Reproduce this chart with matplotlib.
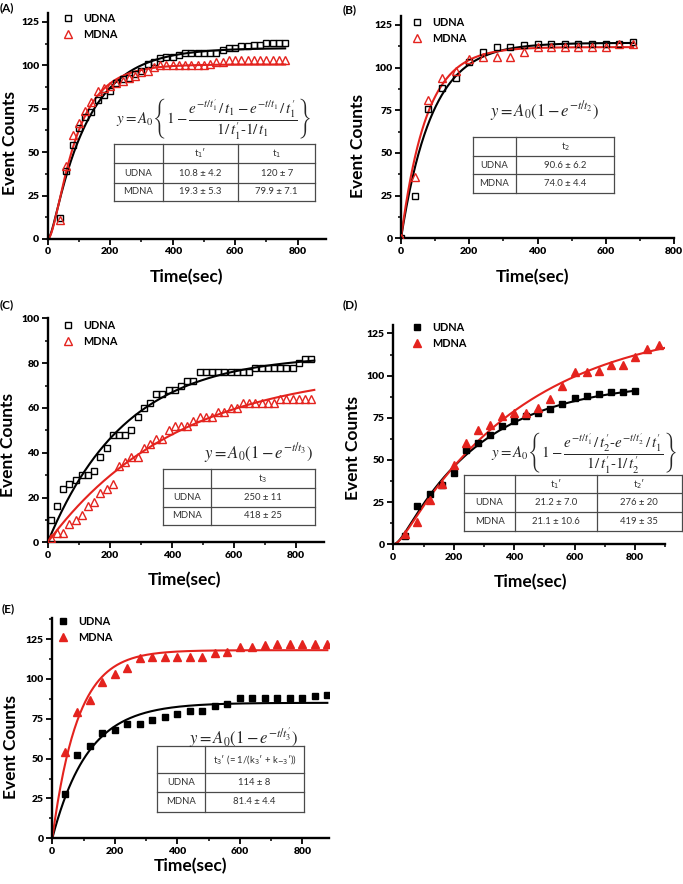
import numpy as np
import matplotlib
matplotlib.use('Agg')
import matplotlib.pyplot as plt
from matplotlib.lines import Line2D
from matplotlib.ticker import MultipleLocator

plt.rcParams['font.family'] = ['Lato', 'DejaVu Sans']
plt.rcParams['mathtext.fontset'] = 'stix'

# ---------------- data ----------------
# Panel A
A_t = [40, 60, 80, 100, 120, 140, 160, 180, 200, 220, 240, 260, 280, 300, 320, 340, 360, 380,
       400, 420, 440, 460, 480, 500, 520, 540, 560, 580, 600, 620, 640, 660, 680, 700, 720, 740, 760]
A_udna = [12, 39, 54, 64, 70, 73, 80, 83, 85, 90, 92, 93, 95, 97, 101, 102, 104, 105,
          105, 106, 107, 107, 107, 107, 107, 107, 109, 110, 110, 111, 111, 112, 112, 113, 113, 113, 113]
A_mdna = [11, 42, 60, 67, 74, 79, 85, 87, 88, 90, 91, 93, 94, 96, 97, 99, 100, 100,
          100, 100, 100, 100, 100, 100, 101, 102, 102, 103, 103, 103, 103, 103, 103, 103, 103, 103, 103]
A_fit_udna = (110.0, 10.8, 120.0)   # A0, t1', t1
A_fit_mdna = (100.5, 19.3, 79.9)
A_fit_end = 760

# Panel B
B_t = [0, 40, 80, 120, 160, 200, 240, 280, 320, 360, 400, 440, 480, 520, 560, 600, 640, 680]
B_udna = [0, 25, 76, 88, 94, 103, 109, 112, 112, 113, 114, 114, 114, 114, 114, 114, 114, 115]
B_mdna = [0, 36, 81, 94, 98, 105, 106, 106, 106, 109, 112, 112, 112, 112, 112, 112, 114, 114]
B_fit_udna = (114.5, 90.6)
B_fit_mdna = (112.0, 74.0)
B_fit_end = 680

# Panel C
C_t = [10, 30, 50, 70, 90, 110, 130, 150, 170, 190, 210, 230, 250, 270, 290, 310, 330, 350, 370, 390,
       410, 430, 450, 470, 490, 510, 530, 550, 570, 590, 610, 630, 650, 670, 690, 710, 730, 750, 770,
       790, 810, 830, 850]
C_udna = [10, 16, 24, 26, 28, 30, 30, 32, 38, 42, 48, 48, 48, 50, 56, 60, 62, 66, 66, 68,
          68, 70, 72, 72, 76, 76, 76, 76, 76, 76, 76, 76, 76, 78, 78, 78, 78, 78, 78,
          78, 80, 82, 82]
C_mdna = [2, 4, 4, 8, 10, 12, 16, 18, 22, 24, 26, 34, 36, 38, 38, 42, 44, 46, 46, 50,
          52, 52, 52, 54, 56, 56, 56, 58, 58, 60, 60, 62, 62, 62, 62, 62, 62, 64, 64,
          64, 64, 64, 64]
C_fit_udna = (83.8, 250.0)
C_fit_mdna = (78.0, 418.0)
C_fit_end = 860

# Panel D
D_t_udna = [40, 80, 120, 160, 200, 240, 280, 320, 360, 400, 440, 480, 520, 560, 600, 640, 680, 720, 760, 800]
D_udna = [5, 23, 30, 35, 42, 56, 60, 65, 70, 73, 76, 78, 80, 83, 87, 88, 89, 90, 90, 91]
D_t_mdna = [40, 80, 120, 160, 200, 240, 280, 320, 360, 400, 440, 480, 520, 560, 600, 640, 680, 720, 760,
            800, 840, 880]
D_mdna = [6, 13, 26, 36, 47, 60, 68, 71, 76, 78, 78, 81, 86, 94, 102, 102, 103, 106, 106, 111, 116, 118]
D_fit_udna = (96.8, 21.2, 276.0)   # A0, t1', t2'
D_fit_mdna = (132.8, 21.1, 419.0)
D_fit_end_udna = 800
D_fit_end_mdna = 900

# Panel E
E_t = [40, 80, 120, 160, 200, 240, 280, 320, 360, 400, 440, 480, 520, 560, 600, 640, 680, 720, 760, 800, 840, 880]
E_udna = [28, 52, 58, 66, 68, 72, 72, 74, 76, 78, 80, 80, 83, 84, 88, 88, 88, 88, 88, 88, 89, 90]
E_mdna = [54, 79, 87, 98, 103, 107, 113, 114, 114, 114, 114, 114, 116, 117, 120, 120, 121, 122, 122, 122, 122, 122]
E_fit_udna = (85.0, 114.0)
E_fit_mdna = (118.0, 81.4)
E_fit_end = 880

# tables
A_table = [["", "t$_1$\u2032", "t$_1$"],
           ["UDNA", "10.8 \u00b1 4.2", "120 \u00b1 7"],
           ["MDNA", "19.3 \u00b1 5.3", "79.9 \u00b1 7.1"]]
B_table = [["", "t$_2$"], ["UDNA", "90.6 \u00b1 6.2"], ["MDNA", "74.0 \u00b1 4.4"]]
C_table = [["", "t$_3$"], ["UDNA", "250 \u00b1 11"], ["MDNA", "418 \u00b1 25"]]
D_table = [["", "t$_1$\u2032", "t$_2$\u2032"],
           ["UDNA", "21.2 \u00b1 7.0", "276 \u00b1 20"],
           ["MDNA", "21.1 \u00b1 10.6", "419 \u00b1 35"]]
E_table = [["", "t$_3$\u2032 (= 1/(k$_3$\u2032 + k$_{-3}$\u2032))"], ["UDNA", "114 \u00b1 8"], ["MDNA", "81.4 \u00b1 4.4"]]

# ---------------- helpers ----------------
W, H = 683, 884
fig = plt.figure(figsize=(6.83, 8.84), dpi=100)
RED = '#e4231e'
GRID = '#4a4a4a'


def one_step(t, a0, tau):
    return a0 * (1 - np.exp(-t / tau))


def two_step(t, a0, ta, tb):
    return a0 * (1 - (np.exp(-t / ta) / tb - np.exp(-t / tb) / ta) / (1 / tb - 1 / ta))


def make_axes(l, t, r, b, xmax, ymax, ymaj, ymin):
    ax = fig.add_axes([l / W, 1 - b / H, (r - l) / W, (b - t) / H])
    ax.set_xlim(0, xmax)
    ax.set_ylim(0, ymax)
    for s in ['top', 'right']:
        ax.spines[s].set_visible(False)
    for s in ['left', 'bottom']:
        ax.spines[s].set_linewidth(1.7)
    ax.xaxis.set_major_locator(MultipleLocator(200))
    ax.xaxis.set_minor_locator(MultipleLocator(100))
    ax.yaxis.set_major_locator(MultipleLocator(ymaj))
    ax.yaxis.set_minor_locator(MultipleLocator(ymin))
    ax.tick_params(which='major', direction='out', length=4, width=1.3, labelsize=7.5, pad=2)
    ax.tick_params(which='minor', direction='out', length=2.5, width=1.1)
    for lab in ax.get_xticklabels() + ax.get_yticklabels():
        lab.set_fontweight('heavy')
    ax.patch.set_alpha(0)
    return ax


def labels(ax, ylab_xy, xlab_xy):
    ax.set_ylabel('Event Counts', fontsize=12.5, fontweight='bold')
    ax.set_xlabel('Time(sec)', fontsize=12.5, fontweight='bold')
    ax.yaxis.set_label_coords(ylab_xy[0] / W, 1 - ylab_xy[1] / H, transform=fig.transFigure)
    ax.xaxis.set_label_coords(xlab_xy[0] / W, 1 - xlab_xy[1] / H, transform=fig.transFigure)
    ax.yaxis.label.set_va('center')
    ax.xaxis.label.set_va('center')


def legend(ax, xm, ym):
    fs = 7.8
    em = fs * 100 / 72
    ax.legend(loc='upper left', bbox_to_anchor=((xm - em * 0.5) / W, 1 - (ym - em * 0.62) / H),
              bbox_transform=fig.transFigure, frameon=False, handlelength=1.0, handletextpad=0.9,
              labelspacing=0.4, borderpad=0, borderaxespad=0,
              prop={'family': ['Lato', 'DejaVu Sans'], 'weight': 'bold', 'size': fs})


def fline(x0, y0, x1, y1):
    fig.add_artist(Line2D([x0 / W, x1 / W], [1 - y0 / H, 1 - y1 / H], transform=fig.transFigure,
                          color=GRID, lw=0.9, zorder=5))


def table(xs, ys, cells, fs=6.8):
    for y in ys:
        fline(xs[0], y, xs[-1], y)
    for x in xs:
        fline(x, ys[0], x, ys[-1])
    for i, row in enumerate(cells):
        for j, txt in enumerate(row):
            if txt:
                fig.text((xs[j] + xs[j + 1]) / 2 / W, 1 - (ys[i] + ys[i + 1]) / 2 / H, txt,
                         ha='center', va='center', fontsize=fs, color='#333333',
                         math_fontfamily='dejavusans', zorder=6)


def equation(x, y, s, fs=11.5):
    fig.text(x / W, 1 - y / H, s, ha='center', va='center', fontsize=fs, color='#262626', zorder=6)


def panel_letter(x, y, s):
    fig.text(x / W, 1 - y / H, s, ha='left', va='center', fontsize=8.5, fontweight='bold')


open_sq = dict(marker='s', ms=4.3, mfc='none', mec='black', mew=1.0, ls='none')
open_tri = dict(marker='^', ms=6.0, mfc='none', mec=RED, mew=1.0, ls='none')
fill_sq = dict(marker='s', ms=4.5, mfc='black', mec='black', ls='none')
fill_tri = dict(marker='^', ms=6.0, mfc=RED, mec=RED, ls='none')

# ---------------- Panel A ----------------
ax = make_axes(47.7, 13.3, 325.8, 239, 890, 130, 25, 12.5)
tt = np.linspace(0, A_fit_end, 400)
ax.plot(tt, two_step(tt, *A_fit_udna), color='black', lw=1.5, zorder=2)
ax.plot(tt, two_step(tt, *A_fit_mdna), color=RED, lw=1.5, zorder=2)
ax.plot(A_t, A_udna, label='UDNA', zorder=3, **open_sq)
ax.plot(A_t, A_mdna, label='MDNA', zorder=3, **open_tri)
legend(ax, 68, 20)
labels(ax, (10, 143), (186, 277))
panel_letter(0, 8, '(A)')
equation(214, 118, r"$y = A_0\left\{1-\dfrac{e^{-t/t_1'}\,/\,t_1-e^{-t/t_1}\,/\,t_1'}{1/\,t_1'\text{-}1/\,t_1}\right\}$", fs=10.8)
table([114.3, 162.7, 238.3, 315], [144, 163.3, 182.7, 201], A_table)

# ---------------- Panel B ----------------
ax = make_axes(401, 16.4, 674, 238.3, 800, 130, 25, 12.5)
tt = np.linspace(0, B_fit_end, 400)
ax.plot(tt, one_step(tt, *B_fit_udna), color='black', lw=1.5, zorder=2)
ax.plot(tt, one_step(tt, *B_fit_mdna), color=RED, lw=1.5, zorder=2)
ax.plot(B_t, B_udna, label='UDNA', zorder=3, **open_sq)
ax.plot(B_t, B_mdna, label='MDNA', zorder=3, **open_tri)
legend(ax, 417, 24)
labels(ax, (358, 146), (533, 277))
panel_letter(343, 10, '(B)')
equation(545, 111, r"$y = A_0\left(1-e^{-t/t_2}\right)$", fs=12)
table([472.7, 516, 614.3], [136.7, 156, 174.3, 193.3], B_table)

# ---------------- Panel C ----------------
ax = make_axes(47.7, 318.3, 323.6, 542.3, 890, 100, 20, 10)
tt = np.linspace(0, C_fit_end, 400)
ax.plot(tt, one_step(tt, *C_fit_udna), color='black', lw=1.5, zorder=2)
ax.plot(tt, one_step(tt, *C_fit_mdna), color=RED, lw=1.5, zorder=2)
ax.plot(C_t, C_udna, label='UDNA', zorder=3, **open_sq)
ax.plot(C_t, C_mdna, label='MDNA', zorder=3, **open_tri)
legend(ax, 68, 327)
labels(ax, (8, 445), (185, 580))
panel_letter(0, 305, '(C)')
equation(259, 453, r"$y = A_0\left(1-e^{-t/t_3}\right)$", fs=12)
table([163.3, 210.7, 315], [469.3, 488.3, 506.7, 525], C_table)

# ---------------- Panel D ----------------
ax = make_axes(393.3, 325, 665.1, 544.3, 900, 130, 25, 12.5)
tt = np.linspace(0, D_fit_end_udna, 400)
ax.plot(tt, two_step(tt, *D_fit_udna), color='black', lw=1.5, zorder=2)
tt = np.linspace(0, D_fit_end_mdna, 400)
ax.plot(tt, two_step(tt, *D_fit_mdna), color=RED, lw=1.5, zorder=2)
ax.plot(D_t_udna, D_udna, label='UDNA', zorder=3, **fill_sq)
ax.plot(D_t_mdna, D_mdna, label='MDNA', zorder=3, **fill_tri)
legend(ax, 417, 329)
labels(ax, (353, 448), (530, 582))
panel_letter(343, 305, '(D)')
equation(584, 453, r"$y = A_0\left\{1-\dfrac{e^{-t/t_1'}\,/\,t_2'\text{-}e^{-t/t_2'}\,/\,t_1'}{1/\,t_1'\text{-}1/\,t_2'}\right\}$", fs=10.8)
table([464, 515, 596.7, 681.7], [475, 493.3, 511.7, 530.7], D_table)

# ---------------- Panel E ----------------
ax = make_axes(52.3, 618.3, 328.9, 838.3, 885, 138, 25, 12.5)
tt = np.linspace(0, E_fit_end, 400)
ax.plot(tt, one_step(tt, *E_fit_udna), color='black', lw=1.5, zorder=2)
ax.plot(tt, one_step(tt, *E_fit_mdna), color=RED, lw=1.5, zorder=2)
ax.plot(E_t, E_udna, label='UDNA', zorder=3, **fill_sq)
ax.plot(E_t, E_mdna, label='MDNA', zorder=3, **fill_tri)
legend(ax, 63, 623)
labels(ax, (11, 747), (190, 866))
panel_letter(2, 609, '(E)')
equation(244, 738, r"$y = A_0\left(1-e^{-t/t_3'}\right)$", fs=12)
table([156.7, 205, 304], [745.7, 773.3, 792, 811.7], E_table)

fig.savefig('out.png', dpi=100)
